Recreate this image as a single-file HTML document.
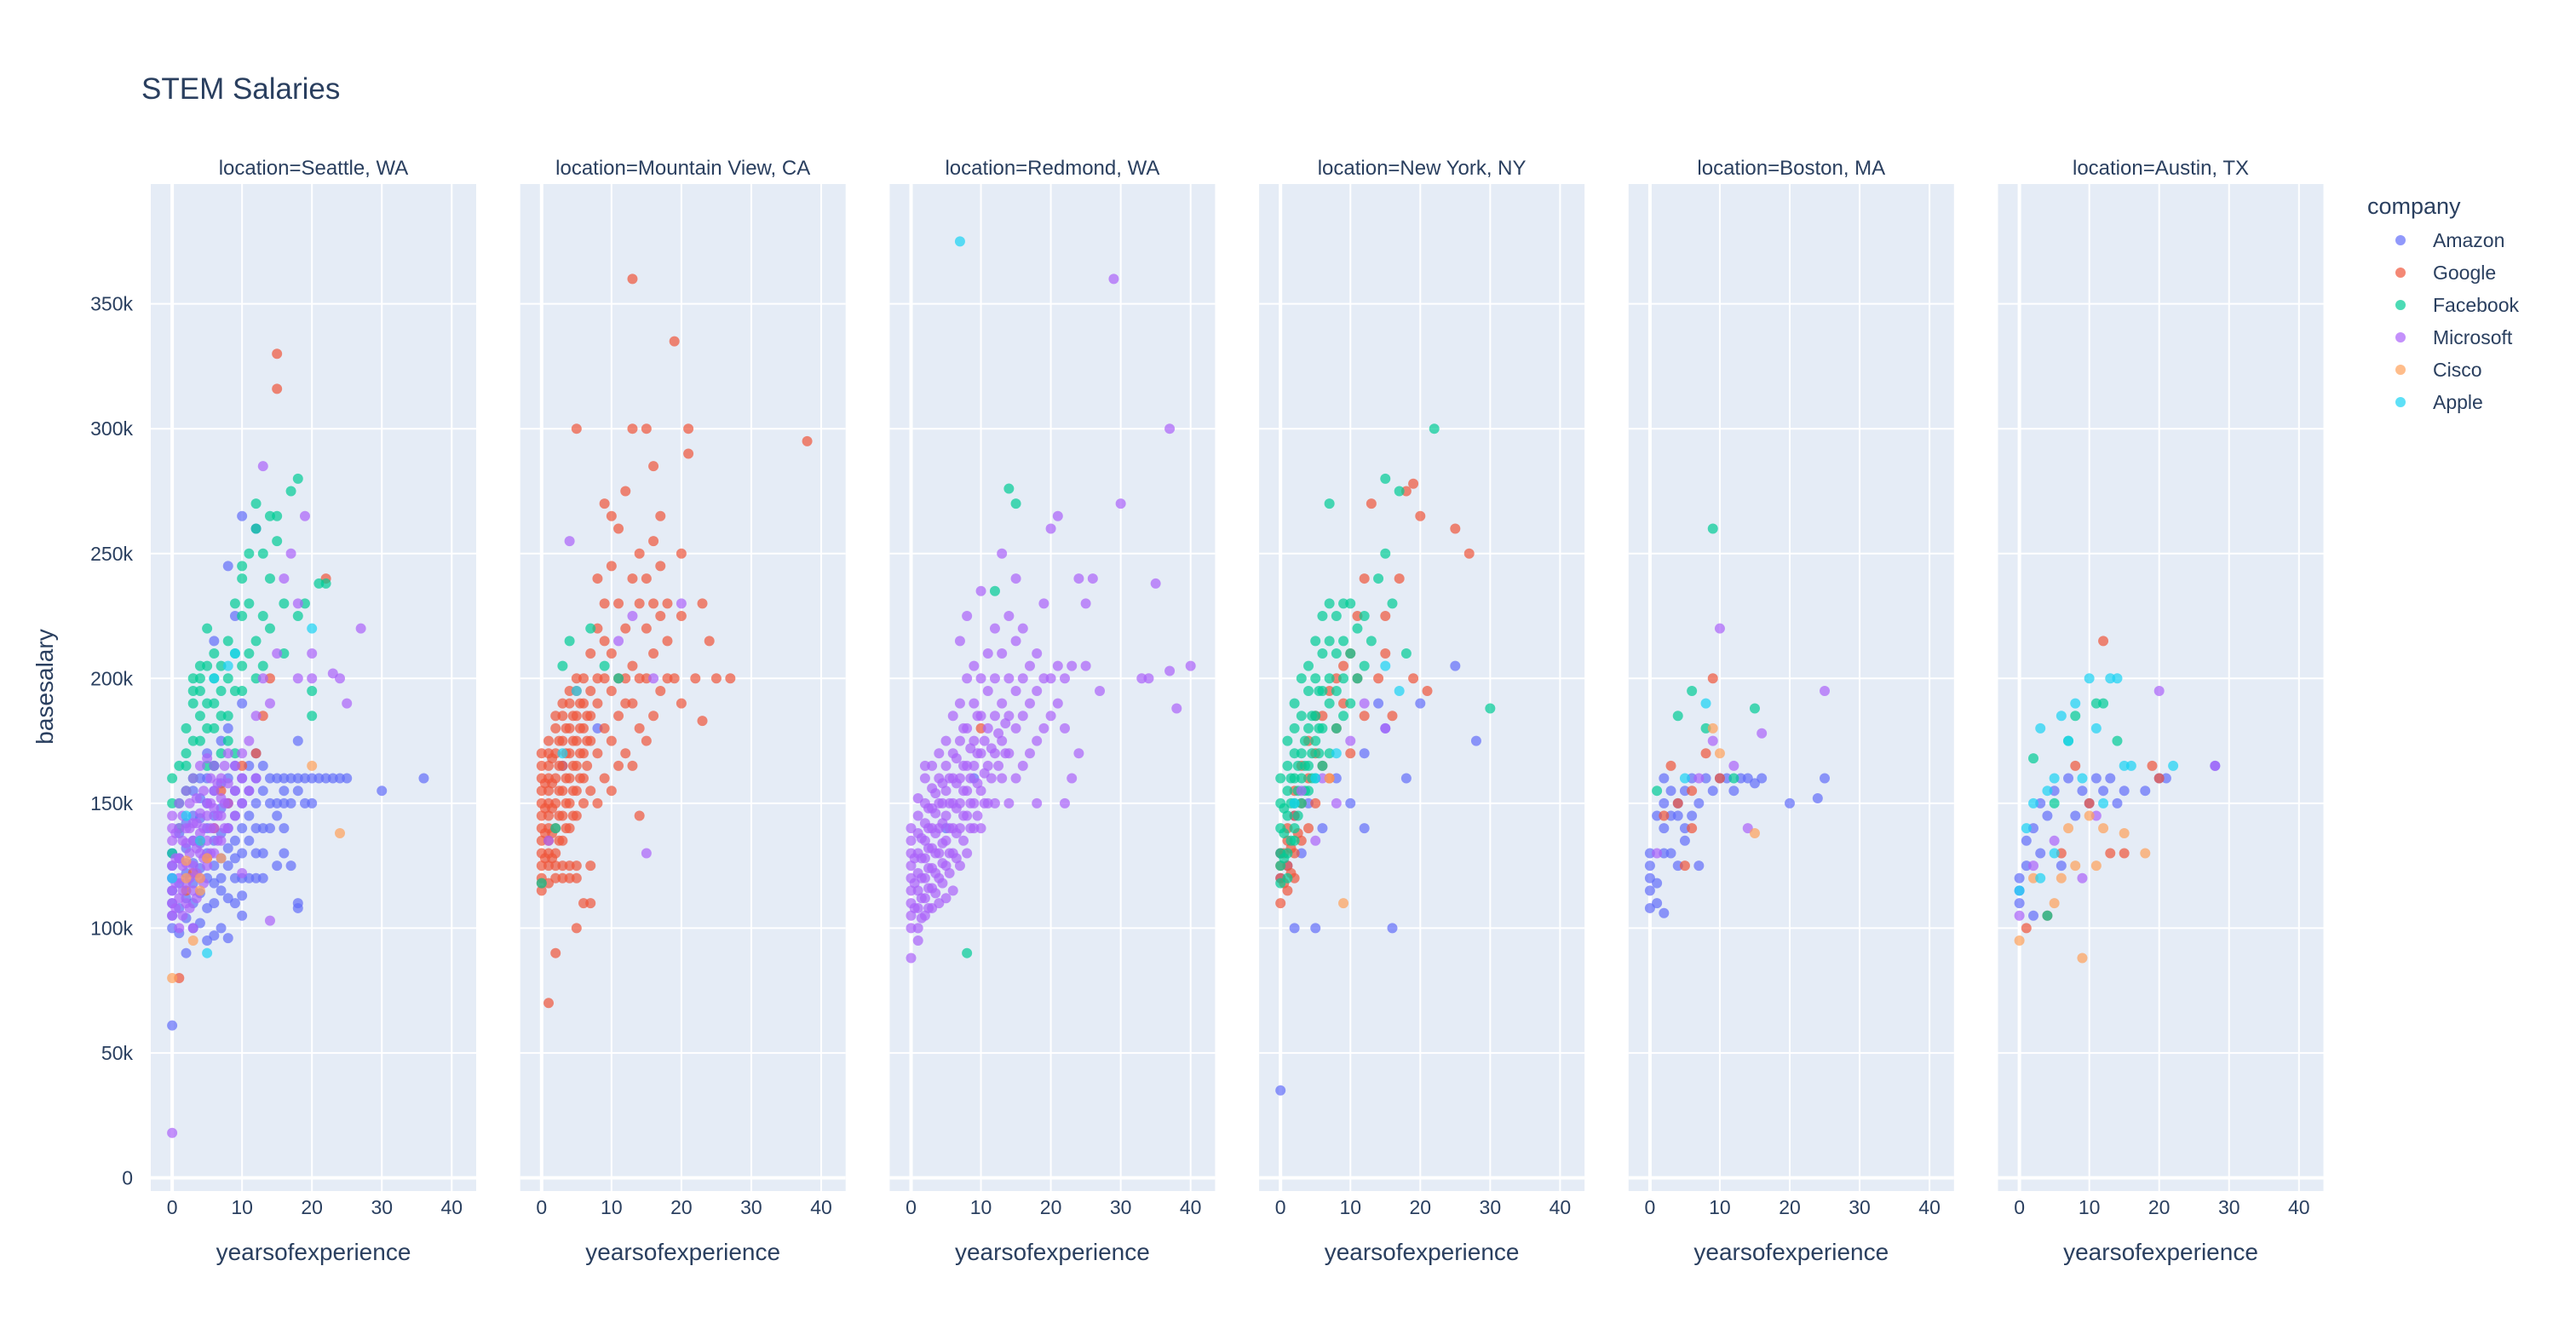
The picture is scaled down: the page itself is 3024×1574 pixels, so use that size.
<!DOCTYPE html>
<html><head><meta charset="utf-8">
<style>
html,body{margin:0;padding:0;background:#fff;}
svg{display:block;font-family:"Liberation Sans",Arial,sans-serif;}
</style></head>
<body>
<svg id="chart" width="3024" height="1574" viewBox="0 0 3024 1574">
<text x="166" y="116" font-size="35" fill="#2a3f5f">STEM Salaries</text>
<text transform="translate(62,806) rotate(-90)" text-anchor="middle" font-size="28" fill="#2a3f5f">basesalary</text>
<g id="panels"></g>
<g id="legend"></g>
</svg>
<script>
const companies = ["Amazon","Google","Facebook","Microsoft","Cisco","Apple"];
const colors = ["#636efa","#EF553B","#00cc96","#ab63fa","#FFA15A","#19d3f3"];
const locations = ["Seattle, WA","Mountain View, CA","Redmond, WA","New York, NY","Boston, MA","Austin, TX"];
const yTicks = [0,50,100,150,200,250,300,350];
const yTickLabels = ["0","50k","100k","150k","200k","250k","300k","350k"];
const xTicks = [0,10,20,30,40];

// [years, salary in k]
const seattleAmazon = [[0,100],[0,105],[0,110],[0,115],[0,120],[0,125],[0,130],[1,98],[1,108],[1,118],[1,128],[1,138],[2,90],[2,104],[2,112],[2,122],[2,132],[2,142],[3,100],[3,110],[3,118],[3,126],[3,135],[3,145],[3,155],[4,102],[4,114],[4,124],[4,134],[4,144],[4,152],[4,160],[5,95],[5,108],[5,120],[5,130],[5,140],[5,150],[5,160],[5,170],[6,97],[6,110],[6,125],[6,135],[6,145],[6,155],[6,165],[7,100],[7,115],[7,128],[7,138],[7,148],[7,158],[7,175],[8,96],[8,112],[8,125],[8,140],[8,150],[8,160],[8,180],[9,120],[9,135],[9,145],[9,155],[9,165],[10,113],[10,130],[10,140],[10,150],[10,160],[10,190],[11,145],[11,155],[11,165],[12,130],[12,150],[12,160],[12,170],[13,140],[13,155],[13,165],[14,150],[14,160],[15,125],[15,145],[15,160],[16,130],[16,150],[16,160],[17,125],[17,160],[18,108],[18,110],[18,155],[18,160],[18,175],[19,160],[20,150],[20,160],[21,160],[22,160],[23,160],[24,160],[25,160],[30,155],[36,160],[0,61],[10,265],[12,260],[8,245],[6,215],[9,225],[16,155],
 [9,128],[10,105],[11,135],[12,140],[13,130],[14,140],[15,150],[16,140],[17,150],[19,150],[8,132],[7,120],[6,118],[11,120],[12,120],[13,120],[9,110],[10,120]];
const seattleGoogle = [[1,80],[3,122],[15,330],[15,316],[5,128],[2,115],[8,150],[10,165],[12,170],[6,140],[22,240],[4,135],[7,155],[14,200],[13,185]];
const seattleFacebook = [[0,160],[0,150],[0,130],[1,165],[2,170],[3,175],[3,190],[4,195],[4,200],[4,185],[5,180],[5,205],[5,220],[6,200],[6,210],[6,190],[7,195],[7,205],[8,200],[8,215],[9,210],[9,230],[10,225],[10,245],[10,240],[11,250],[11,230],[12,270],[12,260],[13,250],[13,225],[14,265],[14,240],[15,255],[15,265],[16,230],[17,275],[18,280],[18,225],[19,230],[20,195],[20,185],[21,238],[22,238],[10,205],[8,185],[6,165],[2,155],[3,160],[12,200],[16,210],[14,220],
 [1,150],[1,140],[2,165],[2,180],[3,200],[4,175],[5,190],[6,180],[7,185],[8,175],[9,195],[10,195],[11,210],[12,215],[13,205],[9,170],[7,170],[5,165],[4,205],[3,195]];
const seattleMicrosoft = [[0,18],[0,105],[0,110],[0,115],[0,120],[0,125],[1,100],[1,112],[1,120],[1,128],[2,110],[2,118],[2,126],[2,134],[2,140],[3,100],[3,115],[3,125],[3,135],[3,142],[4,120],[4,130],[4,138],[4,146],[5,125],[5,135],[5,145],[5,150],[6,130],[6,140],[6,148],[6,155],[7,135],[7,145],[7,152],[7,160],[8,140],[8,150],[8,158],[9,145],[9,155],[9,165],[10,122],[10,150],[10,160],[10,170],[11,155],[11,175],[12,160],[12,185],[13,200],[13,285],[14,103],[14,190],[15,210],[16,240],[17,250],[18,200],[18,230],[19,265],[20,200],[20,210],[23,202],[24,200],[25,190],[27,220],[8,170],[6,165],
 [0.5,108],[0.5,118],[0.5,128],[0.5,138],[1.5,105],[1.5,115],[1.5,125],[1.5,135],[1.5,145],[2.5,108],[2.5,120],[2.5,130],[2.5,140],[2.5,150],[3.5,112],[3.5,122],[3.5,132],[3.5,142],[3.5,152],[4.5,118],[4.5,128],[4.5,140],[4.5,155],[5.5,130],[5.5,140],[5.5,150],[5.5,160],[6.5,135],[6.5,145],[6.5,158],[7.5,140],[7.5,150],[7.5,165],[1,150],[2,155],[3,160],[4,165],[5,168],[0,135],[0,140],[0,145],[1,140]];
const seattleCisco = [[0,80],[2,120],[2,127],[3,95],[4,115],[5,128],[7,128],[4,120],[24,138],[20,165]];
const seattleApple = [[0,120],[2,145],[5,90],[6,200],[8,205],[9,210],[4,135],[20,220]];

const mvAmazon = [[3,165],[8,180]];
const mvGoogle = [[0,115],[0,120],[0,125],[0,130],[0,135],[0,140],[0,145],[0,150],[0,155],[0,160],[0,170],[1,70],[1,125],[1,130],[1,135],[1,140],[1,145],[1,150],[1,155],[1,160],[1,170],[2,90],[2,120],[2,130],[2,140],[2,150],[2,160],[2,170],[2,180],[3,120],[3,135],[3,145],[3,155],[3,165],[3,175],[3,185],[4,120],[4,140],[4,150],[4,160],[4,170],[4,180],[4,190],[5,100],[5,120],[5,145],[5,155],[5,165],[5,175],[5,185],[5,200],[5,300],[6,110],[6,150],[6,160],[6,170],[6,180],[6,190],[6,200],[7,110],[7,125],[7,155],[7,175],[7,185],[7,195],[7,210],[8,150],[8,170],[8,190],[8,200],[8,220],[8,240],[9,160],[9,180],[9,200],[9,215],[9,230],[9,270],[10,155],[10,175],[10,195],[10,210],[10,245],[10,265],[11,165],[11,185],[11,200],[11,230],[11,260],[12,170],[12,190],[12,200],[12,220],[12,275],[13,165],[13,190],[13,205],[13,240],[13,300],[13,360],[14,145],[14,180],[14,200],[14,230],[14,250],[15,175],[15,200],[15,220],[15,240],[15,300],[16,185],[16,210],[16,230],[16,255],[16,285],[17,195],[17,225],[17,245],[17,265],[18,200],[18,215],[18,230],[19,335],[19,200],[20,190],[20,225],[20,250],[21,300],[21,290],[22,200],[23,230],[23,183],[24,215],[25,200],[27,200],[38,295],
 [0.5,128],[0.5,138],[0.5,148],[0.5,158],[1.5,128],[1.5,138],[1.5,148],[1.5,158],[1.5,168],[2.5,135],[2.5,145],[2.5,155],[2.5,165],[2.5,175],[3.5,140],[3.5,150],[3.5,160],[3.5,170],[3.5,180],[4.5,145],[4.5,155],[4.5,165],[4.5,175],[4.5,185],[5.5,160],[5.5,170],[5.5,180],[5.5,190],[6.5,165],[6.5,175],[6.5,185],[0,165],[1,165],[1,175],[2,185],[3,190],[4,195],[5,195],[0,118],[1,118],[2,125],[3,125],[4,125],[5,125]];
const mvFacebook = [[0,118],[2,140],[3,205],[4,215],[9,205],[7,220],[11,200]];
const mvMicrosoft = [[1,135],[4,255],[11,215],[13,225],[16,200],[20,230],[15,130]];
const mvCisco = [];
const mvApple = [[5,195],[3,170]];

const redAmazon = [[5,140],[9,160]];
const redGoogle = [[10,180]];
const redFacebook = [[8,90],[14,276],[15,270],[12,235]];
const redMicrosoft = [[0,88],[0,105],[0,110],[0,115],[0,120],[0,125],[0,130],[1,100],[1,108],[1,115],[1,122],[1,130],[1,138],[1,145],[2,105],[2,112],[2,120],[2,128],[2,135],[2,142],[2,150],[2,160],[3,108],[3,116],[3,124],[3,132],[3,140],[3,148],[3,156],[3,165],[4,110],[4,120],[4,130],[4,140],[4,150],[4,160],[4,170],[5,112],[5,125],[5,135],[5,145],[5,155],[5,165],[5,175],[6,115],[6,130],[6,140],[6,150],[6,160],[6,170],[6,185],[7,125],[7,140],[7,150],[7,160],[7,175],[7,190],[7,215],[8,130],[8,145],[8,155],[8,165],[8,180],[8,200],[8,225],[9,140],[9,150],[9,165],[9,175],[9,190],[9,205],[10,140],[10,155],[10,170],[10,185],[10,200],[10,235],[11,150],[11,165],[11,180],[11,195],[11,210],[12,150],[12,170],[12,185],[12,200],[12,220],[13,160],[13,175],[13,190],[13,210],[13,250],[14,150],[14,170],[14,185],[14,200],[14,225],[15,160],[15,180],[15,195],[15,215],[15,240],[16,165],[16,185],[16,200],[16,220],[17,170],[17,190],[17,205],[18,150],[18,175],[18,195],[18,210],[19,180],[19,200],[19,230],[20,185],[20,200],[20,260],[21,190],[21,205],[21,265],[22,150],[22,180],[22,200],[23,160],[23,205],[24,240],[24,170],[25,230],[25,205],[26,240],[27,195],[29,360],[30,270],[34,200],[35,238],[37,300],[37,203],[38,188],[40,205],[33,200],
 [0.5,108],[0.5,118],[0.5,128],[1.5,104],[1.5,112],[1.5,120],[1.5,128],[1.5,136],[2.5,108],[2.5,116],[2.5,124],[2.5,132],[2.5,140],[2.5,148],[3.5,114],[3.5,122],[3.5,130],[3.5,138],[3.5,146],[3.5,154],[4.5,118],[4.5,126],[4.5,134],[4.5,142],[4.5,150],[4.5,158],[5.5,122],[5.5,130],[5.5,140],[5.5,150],[5.5,160],[6.5,128],[6.5,138],[6.5,148],[6.5,158],[6.5,168],[7.5,135],[7.5,145],[7.5,155],[7.5,165],[7.5,180],[8.5,140],[8.5,150],[8.5,160],[8.5,172],[9.5,145],[9.5,158],[9.5,170],[9.5,185],[10.5,150],[10.5,162],[10.5,175],[11.5,160],[11.5,172],[12.5,165],[12.5,178],[13.5,170],[13.5,182],[0,135],[0,140],[1,152],[2,165],[0,100],[1,95]];
const redCisco = [];
const redApple = [[7,375]];

const nyAmazon = [[0,120],[0,130],[1,125],[2,100],[2,145],[3,130],[4,150],[5,100],[6,140],[8,160],[10,150],[12,170],[15,180],[16,100],[18,160],[20,190],[25,205],[28,175],[0,35],[12,140],[14,190]];
const nyGoogle = [[0,110],[0,120],[0,125],[0,130],[1,115],[1,125],[1,135],[1,140],[2,120],[2,130],[2,145],[2,155],[3,135],[3,150],[3,165],[4,140],[4,160],[4,175],[5,150],[5,170],[5,185],[6,165],[6,185],[7,160],[7,195],[8,180],[8,200],[9,190],[9,205],[10,170],[10,210],[11,200],[11,225],[12,185],[12,240],[13,270],[14,200],[15,225],[15,210],[16,185],[17,240],[18,275],[19,278],[19,200],[20,265],[21,195],[25,260],[27,250],
 [0.5,118],[0.5,130],[1.5,122],[1.5,132],[2.5,138]];
const nyFacebook = [[0,118],[0,125],[0,140],[0,150],[0,160],[1,130],[1,145],[1,155],[1,165],[1,175],[2,140],[2,150],[2,160],[2,170],[2,180],[2,190],[3,150],[3,160],[3,170],[3,185],[3,200],[4,155],[4,165],[4,180],[4,195],[4,205],[5,160],[5,175],[5,185],[5,200],[5,215],[6,165],[6,180],[6,195],[6,210],[6,225],[7,170],[7,190],[7,200],[7,215],[7,230],[8,180],[8,195],[8,210],[8,225],[9,185],[9,200],[9,215],[9,230],[10,190],[10,210],[10,230],[11,200],[11,220],[12,205],[12,225],[13,215],[14,240],[15,280],[15,250],[16,230],[17,275],[18,210],[22,300],[30,188],[7,270],
 [0.5,128],[0.5,138],[0.5,148],[1.5,135],[1.5,150],[1.5,160],[2.5,145],[2.5,155],[2.5,165],[3.5,155],[3.5,165],[3.5,175],[4.5,160],[4.5,170],[4.5,185],[5.5,170],[5.5,180],[5.5,195],[0,130],[1,120],[2,135]];
const nyMicrosoft = [[3,155],[5,135],[8,150],[10,175],[12,190],[15,180],[6,160]];
const nyCisco = [[9,110],[7,160]];
const nyApple = [[2,150],[5,160],[8,170],[15,205],[17,195]];

const bosAmazon = [[0,108],[0,115],[0,120],[0,125],[0,130],[1,110],[1,118],[1,145],[2,106],[2,130],[2,140],[2,150],[2,160],[3,130],[3,145],[3,155],[4,125],[4,145],[4,150],[5,135],[5,140],[5,155],[6,145],[6,160],[7,125],[7,150],[8,160],[9,155],[10,160],[11,160],[12,155],[13,160],[14,160],[15,158],[16,160],[20,150],[24,152],[25,160]];
const bosGoogle = [[3,165],[4,150],[5,125],[6,140],[8,170],[9,200],[10,160],[6,155],[2,145]];
const bosFacebook = [[1,155],[4,185],[6,195],[8,180],[9,260],[12,160],[15,188]];
const bosMicrosoft = [[1,130],[9,175],[10,220],[12,165],[14,140],[16,178],[25,195],[7,160]];
const bosCisco = [[10,170],[15,138],[9,180]];
const bosApple = [[5,160],[8,190]];

const ausAmazon = [[0,110],[0,115],[0,120],[1,125],[1,135],[2,105],[2,140],[3,130],[3,150],[4,145],[5,155],[6,125],[7,160],[8,145],[9,155],[10,150],[11,160],[12,155],[13,160],[14,150],[15,155],[18,155],[20,160],[21,160],[28,165]];
const ausGoogle = [[1,100],[4,105],[6,130],[8,165],[10,150],[12,215],[13,130],[15,130],[19,165],[20,160]];
const ausFacebook = [[2,168],[4,105],[5,150],[7,175],[8,185],[11,190],[12,190],[14,175]];
const ausMicrosoft = [[0,105],[2,125],[5,135],[9,120],[11,145],[20,195],[28,165]];
const ausCisco = [[0,95],[2,120],[5,110],[7,140],[8,125],[9,88],[10,145],[11,125],[12,140],[15,138],[18,130],[6,120]];
const ausApple = [[0,115],[1,140],[2,150],[3,180],[4,155],[5,160],[6,185],[7,175],[8,190],[9,160],[10,200],[11,180],[12,150],[13,200],[14,200],[15,165],[16,165],[22,165],[3,120],[5,130]];

const panelData = [
  [seattleAmazon,seattleGoogle,seattleFacebook,seattleMicrosoft,seattleCisco,seattleApple],
  [mvAmazon,mvGoogle,mvFacebook,mvMicrosoft,mvCisco,mvApple],
  [redAmazon,redGoogle,redFacebook,redMicrosoft,redCisco,redApple],
  [nyAmazon,nyGoogle,nyFacebook,nyMicrosoft,nyCisco,nyApple],
  [bosAmazon,bosGoogle,bosFacebook,bosMicrosoft,bosCisco,bosApple],
  [ausAmazon,ausGoogle,ausFacebook,ausMicrosoft,ausCisco,ausApple]
];

const NS = "http://www.w3.org/2000/svg";
const panelW = 382, panelStep = 433.7, panelX0 = 177, plotTop = 216, plotBottom = 1398;
const xMin = -3.06, xMax = 43.5, yMin = -5.3, yMax = 398;
function xScale(p, v){ return panelX0 + p*panelStep + (v - xMin)/(xMax - xMin)*panelW; }
function yScale(v){ return plotBottom - (v - yMin)/(yMax - yMin)*(plotBottom - plotTop); }
function mk(tag, attrs, parent){ const e = document.createElementNS(NS, tag); for (const k in attrs) e.setAttribute(k, attrs[k]); parent.appendChild(e); return e; }

const root = document.getElementById("panels");
locations.forEach((loc, p) => {
  const g = mk("g", {}, root);
  
  
  const x0 = panelX0 + p*panelStep;
  const bg = mk("rect", {x:x0, y:plotTop, width:panelW, height:plotBottom-plotTop, fill:"#e5ecf6"}, g);
  
  
  yTicks.forEach(t => {
    const y = yScale(t);
    const gl = mk("line", {x1:x0, x2:x0+panelW, y1:y, y2:y, stroke:"#fff", "stroke-width": t===0 ? 4 : 2}, g);
    
    
  });
  xTicks.forEach(t => {
    const x = xScale(p, t);
    const gl = mk("line", {x1:x, x2:x, y1:plotTop, y2:plotBottom, stroke:"#fff", "stroke-width": t===0 ? 4 : 2}, g);
    
    
    const tl = mk("text", {x:x, y:1425, "text-anchor":"middle", "font-size":23, fill:"#2a3f5f"}, g);
    tl.textContent = String(t);
    
    
  });
  const st = mk("text", {x:x0+panelW/2, y:205, "text-anchor":"middle", "font-size":24, fill:"#2a3f5f"}, g);
  st.textContent = "location=" + loc;
  
  
  const xt = mk("text", {x:x0+panelW/2, y:1479, "text-anchor":"middle", "font-size":28, fill:"#2a3f5f"}, g);
  xt.textContent = "yearsofexperience";
  
  
  panelData[p].forEach((series, c) => {
    series.forEach(pt => {
      const m = mk("circle", {cx:xScale(p, pt[0]), cy:yScale(pt[1]), r:6, fill:colors[c], "fill-opacity":0.7}, g);
      
      
    });
  });
});
yTicks.forEach((t, i) => {
  const tl = mk("text", {x:156, y:yScale(t)+8, "text-anchor":"end", "font-size":23, fill:"#2a3f5f"}, root);
  tl.textContent = yTickLabels[i];
  
  
});
const leg = document.getElementById("legend");
const lt = mk("text", {x:2779, y:251, "font-size":27, fill:"#2a3f5f"}, leg);
lt.textContent = "company";


companies.forEach((name, i) => {
  const y = 282 + i*38;
  const e = mk("g", {}, leg);
  
  
  mk("circle", {cx:2818, cy:y, r:6, fill:colors[i], "fill-opacity":0.7}, e);
  const t = mk("text", {x:2856, y:y+8, "font-size":23, fill:"#2a3f5f"}, e);
  t.textContent = name;
});
</script>
</body></html>
